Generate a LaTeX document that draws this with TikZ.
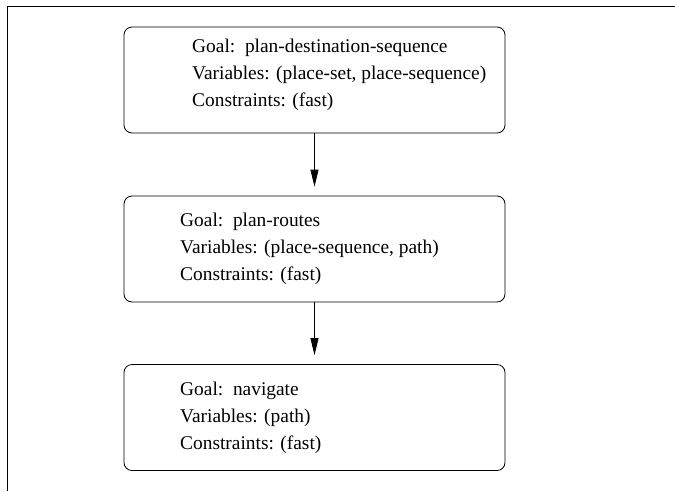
\documentclass[tikz,border=0pt]{standalone}
\usepackage{fontspec}
\setmainfont{Liberation Serif}
\usetikzlibrary{arrows.meta}
\begin{document}
\begin{tikzpicture}[x=1pt,y=-1pt,
  goalbox/.style={draw,rounded corners=8pt,line width=0.8pt,minimum width=381pt,minimum height=106pt,inner sep=0pt},
  txt/.style={anchor=base west,inner sep=0pt,font=\fontsize{19.4pt}{24pt}\selectfont},
  link/.style={line width=0.8pt,-{Triangle[length=17pt,width=8pt]},shorten >=9pt}]
\useasboundingbox (0,0) rectangle (675,491);
\draw[line width=0.8pt] (7,491) -- (7,6) -- (675,6);
\node[goalbox] (b1) at (314.5,80) {};
\node[goalbox] (b2) at (314.5,249) {};
\node[goalbox] (b3) at (314.5,417.5) {};
\node[txt] (g1) at (192,52) {Goal:\ \ plan-destination-sequence};
\node[txt] (v1) at (192,79) {Variables: (place-set, place-sequence)};
\node[txt] (c1) at (192,106) {Constraints: (fast)};
\node[txt] (g2) at (180,226) {Goal:\ \ plan-routes};
\node[txt] (v2) at (180,253) {Variables: (place-sequence, path)};
\node[txt] (c2) at (180,280) {Constraints: (fast)};
\node[txt] (g3) at (180,395) {Goal:\ \ navigate};
\node[txt] (v3) at (180,422) {Variables: (path)};
\node[txt] (c3) at (180,449) {Constraints: (fast)};
\draw[link] (b1) -- (b2);
\draw[link] (b2) -- (b3);
\end{tikzpicture}
\end{document}
